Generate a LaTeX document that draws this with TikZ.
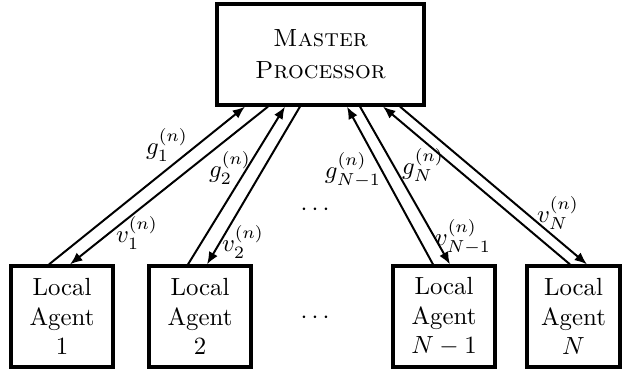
\documentclass[tikz,border=0pt]{standalone}
\usetikzlibrary{arrows.meta,calc}
\begin{document}
\begin{tikzpicture}[x=0.403pt,y=-0.403pt,
  mbox/.style={draw,line width=1.3pt,minimum width=83.4pt,minimum height=40.7pt,align=center,inner sep=0pt},
  abox/.style={draw,line width=1.3pt,minimum width=41.1pt,minimum height=40.7pt,align=center,inner sep=0pt},
  arr/.style={line width=0.8pt,-{Latex[length=5pt,width=4pt]}},
  lbl/.style={inner sep=0pt}]
\useasboundingbox (0,0) rectangle (622,369);
\node[mbox] (m) at (320.5,54.5) {\textsc{Master}\\[1pt]\textsc{Processor}};
\node[abox] (a1) at (62,316.5) {Local\\Agent\\1};
\node[abox] (a2) at (200,316.5) {Local\\Agent\\2};
\node[abox] (a3) at (444,316.5) {Local\\Agent\\$N-1$};
\node[abox,minimum width=37.5pt] (a4) at (573.5,316.5) {Local\\Agent\\$N$};
\draw[arr] ($(a1.north)+(-13,0)$) -- ($(m.south)+(-75.5,0)$);
\draw[arr] ($(m.south)+(-52.5,0)$) -- ($(a1.north)+(8,0)$);
\draw[arr] ($(a2.north)+(-12,0)$) -- ($(m.south)+(-35.5,0)$);
\draw[arr] ($(m.south)+(-20.5,0)$) -- ($(a2.north)+(7,0)$);
\draw[arr] ($(a3.north)+(-11,0)$) -- ($(m.south)+(26.5,0)$);
\draw[arr] ($(m.south)+(39.5,0)$) -- ($(a3.north)+(6,0)$);
\draw[arr] ($(a4.north)+(-3.5,0)$) -- ($(m.south)+(62.5,0)$);
\draw[arr] ($(m.south)+(79.5,0)$) -- ($(a4.north)+(13.5,0)$);
\node[lbl] (g1) at (167,145) {$g_1^{(n)}$};
\node[lbl] (g2) at (230,168) {$g_2^{(n)}$};
\node[lbl] (v1) at (137,233) {$v_1^{(n)}$};
\node[lbl] (v2) at (243,242) {$v_2^{(n)}$};
\node[lbl] (g3) at (353,170) {$g_{N-1}^{(n)}$};
\node[lbl] (g4) at (423,165) {$g_N^{(n)}$};
\node[lbl] (v3) at (463,237) {$v_{N-1}^{(n)}$};
\node[lbl] (v4) at (558,213) {$v_N^{(n)}$};
\node[lbl] (d1) at (315,210) {$\cdots$};
\node[lbl] (d2) at (315,318) {$\cdots$};
\end{tikzpicture}
\end{document}
